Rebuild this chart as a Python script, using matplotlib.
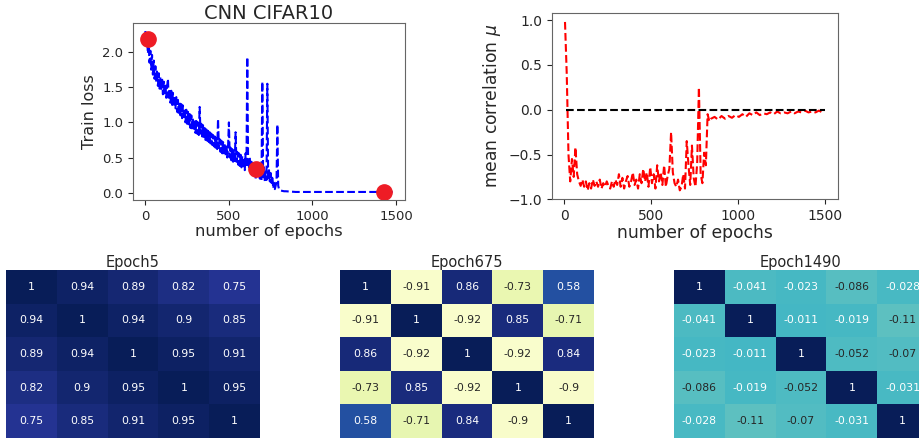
import matplotlib
matplotlib.use("Agg")
import matplotlib.pyplot as plt
import seaborn as sns
import numpy as np

# train loss (every 5 epochs while it is noisy)
loss_epochs = list(range(0, 811, 5)) + [820, 830, 840, 900, 1000, 1100, 1200, 1300, 1400, 1480]
loss = [2.30, 2.15, 2.22, 1.98, 2.10, 1.85, 2.02, 1.75, 1.96, 1.68,
        1.88, 1.62, 1.80, 1.58, 1.74, 1.52, 1.70, 1.48, 1.64, 1.45,
        1.62, 1.40, 1.58, 1.38, 1.55, 1.35, 1.50, 1.62, 1.32, 1.48,
        1.28, 1.45, 1.25, 1.42, 1.22, 1.38, 1.20, 1.36, 1.15, 1.32,
        1.12, 1.30, 1.10, 1.26, 1.06, 1.24, 1.04, 1.20, 1.00, 1.18,
        0.98, 1.15, 0.95, 1.12, 0.92, 1.10, 0.90, 1.06, 0.88, 1.04,
        0.85, 1.02, 0.84, 1.00, 0.82, 1.22, 0.84, 0.98, 0.80, 0.96,
        0.78, 0.92, 0.75, 0.90, 0.74, 0.88, 0.72, 0.86, 0.70, 0.84,
        0.68, 0.82, 0.66, 0.80, 0.64, 0.78, 0.62, 1.05, 0.64, 0.76,
        0.58, 0.74, 0.56, 0.72, 0.54, 0.70, 0.52, 0.68, 0.50, 0.66,
        1.00, 0.50, 0.64, 0.46, 0.62, 0.44, 0.60, 0.42, 0.86, 0.44,
        0.58, 0.40, 0.56, 0.38, 0.54, 0.36, 0.52, 0.34, 0.50, 0.32,
        0.56, 0.36, 1.93, 0.42, 0.34, 0.50, 0.30, 0.44, 0.28, 0.42,
        0.26, 0.38, 0.20, 0.34, 0.42, 0.24, 0.36, 0.20, 0.32, 0.18,
        1.58, 0.22, 0.36, 0.16, 0.30, 0.18, 1.55, 0.20, 0.32, 0.16,
        0.28, 0.14, 0.24, 0.06, 0.14, 0.05, 0.10, 0.16, 0.97, 0.10,
        0.05, 0.04, 0.03,
        0.025, 0.02, 0.02, 0.01, 0.01, 0.01, 0.01, 0.01, 0.01, 0.01]
marker_epochs = [15, 665, 1430]
marker_loss = [2.19, 0.34, 0.01]

# mean correlation
corr_epochs = list(range(5, 846, 10)) + list(range(865, 1486, 20))
corr = [0.98, 0.40, -0.50, -0.80, -0.55, -0.75, -0.42, -0.72, -0.80, -0.85,
        -0.78, -0.86, -0.80, -0.90, -0.82, -0.88, -0.78, -0.85, -0.80, -0.86,
        -0.78, -0.88, -0.82, -0.86, -0.80, -0.85, -0.88, -0.80, -0.86, -0.78,
        -0.84, -0.72, -0.86, -0.76, -0.88, -0.80, -0.74, -0.86, -0.80, -0.70,
        -0.84, -0.78, -0.88, -0.72, -0.82, -0.66, -0.80, -0.70, -0.86, -0.64,
        -0.82, -0.72, -0.88, -0.62, -0.80, -0.70, -0.84, -0.62, -0.86, -0.74,
        -0.66, -0.25, -0.70, -0.82, -0.86, -0.78, -0.90, -0.86, -0.72, -0.88,
        -0.35, -0.62, -0.84, -0.40, -0.76, -0.86, -0.60, 0.25, -0.72, -0.82,
        -0.48, -0.62, -0.05, -0.13, -0.10,
        -0.08, -0.11, -0.07, -0.10, -0.07,
        -0.09, -0.06, -0.08, -0.05, -0.08, -0.04, -0.06, -0.03, -0.06, -0.04,
        -0.05, -0.03, -0.05, -0.02, -0.04, -0.03, -0.04, -0.02, -0.04, -0.02,
        -0.03, -0.01, -0.03, -0.02, -0.03, -0.01, -0.03]

# correlation matrices
titles = ["Epoch5", "Epoch675", "Epoch1490"]
mat5 = [[1, 0.94, 0.89, 0.82, 0.75],
        [0.94, 1, 0.94, 0.9, 0.85],
        [0.89, 0.94, 1, 0.95, 0.91],
        [0.82, 0.9, 0.95, 1, 0.95],
        [0.75, 0.85, 0.91, 0.95, 1]]
mat675 = [[1, -0.91, 0.86, -0.73, 0.58],
          [-0.91, 1, -0.92, 0.85, -0.71],
          [0.86, -0.92, 1, -0.92, 0.84],
          [-0.73, 0.85, -0.92, 1, -0.9],
          [0.58, -0.71, 0.84, -0.9, 1]]
mat1490 = [[1, -0.041, -0.023, -0.086, -0.028],
           [-0.041, 1, -0.011, -0.019, -0.11],
           [-0.023, -0.011, 1, -0.052, -0.07],
           [-0.086, -0.019, -0.052, 1, -0.031],
           [-0.028, -0.11, -0.07, -0.031, 1]]

plt.rcParams['text.color'] = '0.15'
plt.rcParams['axes.labelcolor'] = '0.15'
plt.rcParams['xtick.color'] = '0.15'
plt.rcParams['ytick.color'] = '0.15'
plt.rcParams['axes.edgecolor'] = '0.4'

fig = plt.figure(figsize=(9.2, 4.38), dpi=100)

ax1 = fig.add_axes([133/920, 238/438, 272/920, 177/438])
ax1.plot(loss_epochs, loss, 'b--', lw=1.5)
ax1.plot(marker_epochs, marker_loss, 'o', color='#ee1c25', markersize=11)
ax1.set_title("CNN CIFAR10", fontsize=14, pad=3)
ax1.set_xlabel("number of epochs", fontsize=11.7, labelpad=1)
ax1.set_ylabel("Train loss", fontsize=11.5)
ax1.tick_params(labelsize=9.5)

ax2 = fig.add_axes([552/920, 238.7/438, 286/920, 186.3/438])
ax2.plot(corr_epochs, corr, 'r--', lw=1.5)
ax2.hlines(0, 10, 1500, colors='k', linestyles='--', lw=1.5)
ax2.set_ylim(-1.0, 1.08)
ax2.set_xlabel("number of epochs", fontsize=12.3, labelpad=1)
ax2.set_ylabel(r"mean correlation $\mu$", fontsize=12.3)
ax2.tick_params(labelsize=10)

lefts = [6, 340, 674]
for left, title, mat in zip(lefts, titles, [mat5, mat675, mat1490]):
    ax = fig.add_axes([left/920, 0, 254/920, 168/438])
    sns.heatmap(np.array(mat), ax=ax, cmap='YlGnBu', vmin=-1, vmax=1,
                annot=True, cbar=False, xticklabels=False, yticklabels=False,
                annot_kws={'size': 7.8})
    ax.set_title(title, fontsize=10.5, pad=2)

fig.savefig("out.png", dpi=100)
